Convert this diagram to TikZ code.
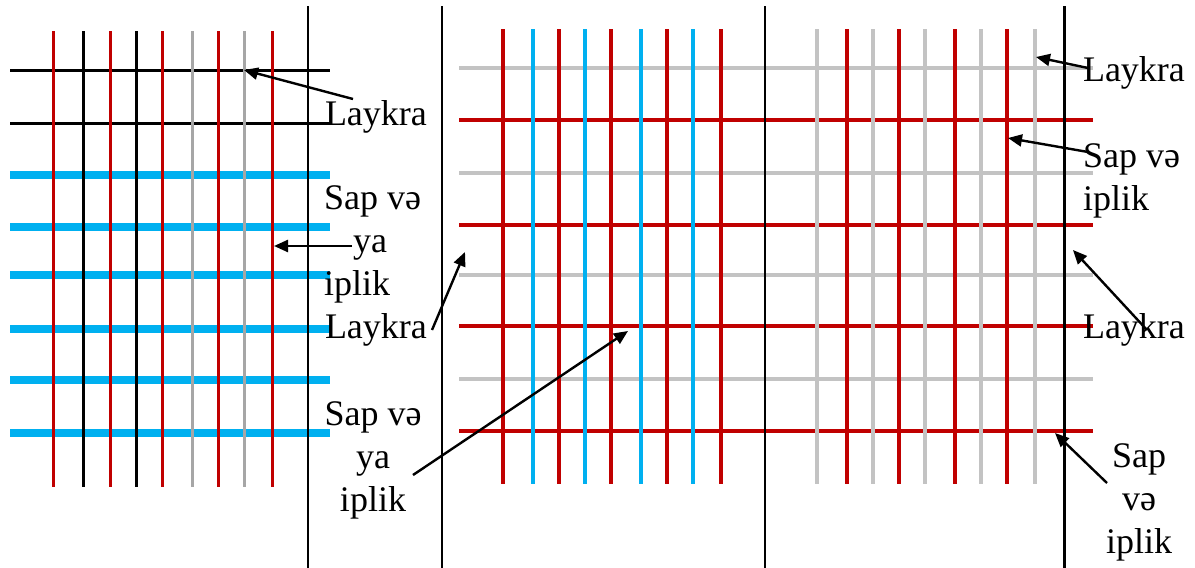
\documentclass[tikz,border=0pt]{standalone}
\usepackage{fontspec}
\setmainfont{Liberation Serif}
\usetikzlibrary{arrows.meta}
\definecolor{cred}{HTML}{C00000}
\definecolor{cblue}{HTML}{00B0F0}
\definecolor{cgray}{HTML}{C3C3C3}
\definecolor{dgray}{HTML}{A6A6A6}
\begin{document}
\begin{tikzpicture}[x=0.5pt,y=-0.5pt,
  lbl/.style={inner sep=0pt,outer sep=0pt,font=\fontsize{18}{21.5}\selectfont},
  arr/.style={draw=black,line width=1.2pt,-{Triangle[length=7pt,width=6pt]}},
  sepline/.style={line width=1pt},
  thinyarn/.style={line width=1.5pt},
  thickyarn/.style={line width=3.75pt},
  midyarn/.style={line width=2pt}]
\useasboundingbox (0,0) rectangle (1195,568);
% ---------- left panel ----------
\foreach \y in {70,123} \draw[thinyarn,black] (10,\y) -- (330,\y);
\foreach \y in {175,227,275,329,380,433} \draw[thickyarn,cblue] (10,\y) -- (330,\y);
\foreach \x/\c in {53/cred,83/black,110/cred,136/black,162/cred,192/dgray,218/cred,244/dgray,272/cred}
  \draw[thinyarn,\c] (\x,31) -- (\x,487);
% ---------- middle panel ----------
\foreach \y in {68,173,275,379} \draw[midyarn,cgray] (459,\y) -- (779,\y);
\foreach \y in {120,225,326,431} \draw[midyarn,cred] (459,\y) -- (779,\y);
\foreach \x/\c in {503/cred,533/cblue,559/cred,585/cblue,611/cred,641/cblue,667/cred,693/cblue,721/cred}
  \draw[midyarn,\c] (\x,29) -- (\x,484);
% ---------- right panel ----------
\foreach \y in {68,173,275,379} \draw[midyarn,cgray] (779,\y) -- (1093,\y);
\foreach \y in {120,225,326,431} \draw[midyarn,cred] (779,\y) -- (1093,\y);
\foreach \x/\c in {817/cgray,847/cred,873/cgray,899/cred,925/cgray,955/cred,981/cgray,1007/cred,1035/cgray}
  \draw[midyarn,\c] (\x,29) -- (\x,484);
% ---------- separators ----------
\draw[sepline] (308,6) -- (308,568);
\draw[sepline] (442,6) -- (442,568);
\draw[sepline] (765,6) -- (765,568);
\draw[line width=1.5pt] (1064,6) -- (1064,568);
% ---------- labels (base = baseline of last line) ----------
\node[lbl,anchor=base west] (l1) at (325,125) {Laykra};
\node[lbl,anchor=base west,align=left] (l2) at (324,295) {Sap və\\\hspace*{14.5pt}ya\\iplik};
\node[lbl,anchor=base west] (l3) at (325,338) {Laykra};
\node[lbl,anchor=base,align=center] (l4) at (373,511) {Sap və\\ya\\iplik};
\node[lbl,anchor=base west] (r1) at (1083,81) {Laykra};
\node[lbl,anchor=base west,align=left] (r2) at (1083,210) {Sap və\\iplik};
\node[lbl,anchor=base west] (r3) at (1083,338) {Laykra};
\node[lbl,anchor=base,align=center] (r4) at (1139,553) {Sap\\və\\iplik};
% ---------- arrow ends ----------
\coordinate (s1) at (353,99);   \coordinate (t1) at (244,70);
\coordinate (s2) at (352,246);  \coordinate (t2) at (274,246);
\coordinate (s3) at (432,330);  \coordinate (t3) at (465,252);
\coordinate (s4) at (413,475);  \coordinate (t4) at (628,331);
\coordinate (s5) at (1088,68);  \coordinate (t5) at (1036,57);
\coordinate (s6) at (1088,152); \coordinate (t6) at (1008,138);
\coordinate (s7) at (1147,330); \coordinate (t7) at (1073,250);
\coordinate (s8) at (1107,483); \coordinate (t8) at (1055,433);
\foreach \i in {1,...,8} \draw[arr] (s\i) -- (t\i);
\end{tikzpicture}
\end{document}
